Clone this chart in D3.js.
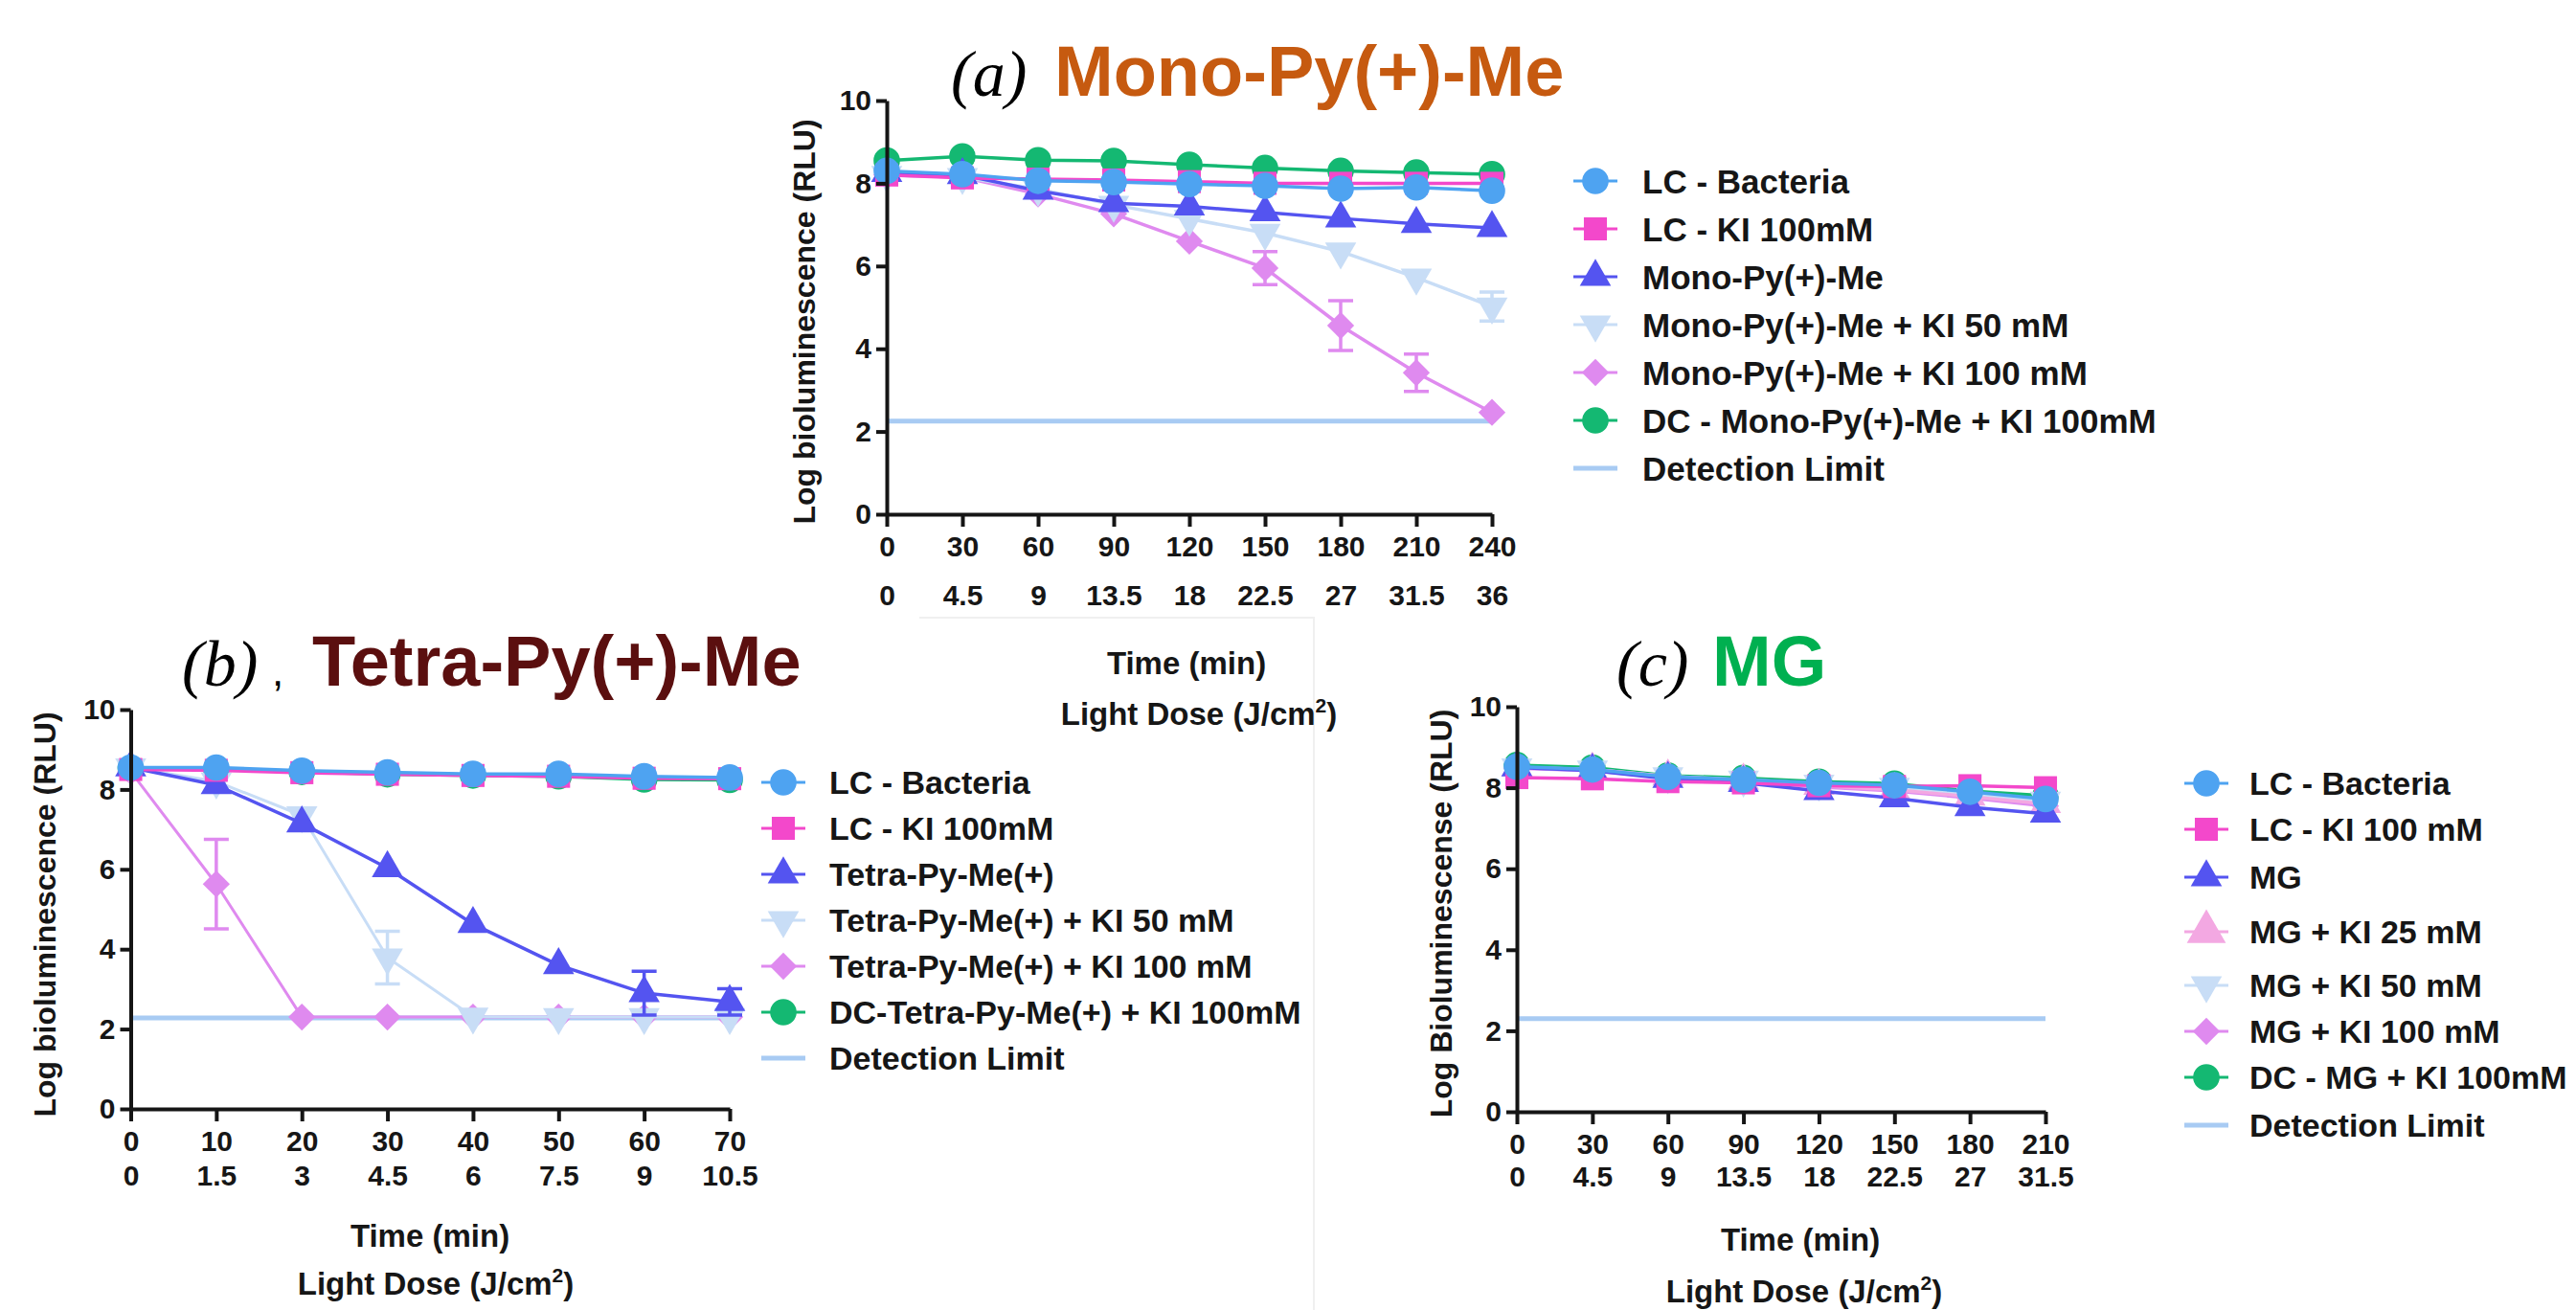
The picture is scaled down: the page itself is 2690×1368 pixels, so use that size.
<!DOCTYPE html>
<html>
<head>
<meta charset="utf-8">
<script src="https://cdn.jsdelivr.net/npm/d3@7"></script>
<style>
  body { margin: 0; background: #fff; }
  svg text { font-family: "Liberation Sans", Arial, sans-serif; font-weight: bold; fill: #161616; }
</style>
</head>
<body>
<svg id="fig" width="2690" height="1368"></svg>
<script>
// ---- x axis categories (time and light dose) ----
const timeA = [0, 30, 60, 90, 120, 150, 180, 210, 240];
const doseA = ["0", "4.5", "9", "13.5", "18", "22.5", "27", "31.5", "36"];
const timeB = [0, 10, 20, 30, 40, 50, 60, 70];
const doseB = ["0", "1.5", "3", "4.5", "6", "7.5", "9", "10.5"];
const timeC = [0, 30, 60, 90, 120, 150, 180, 210];
const doseC = ["0", "4.5", "9", "13.5", "18", "22.5", "27", "31.5"];
const yTicks = [0, 2, 4, 6, 8, 10];

// ---- (a) Mono-Py(+)-Me ----
const labelsA = ["LC - Bacteria", "LC - KI 100mM", "Mono-Py(+)-Me", "Mono-Py(+)-Me + KI 50 mM",
  "Mono-Py(+)-Me + KI 100 mM", "DC - Mono-Py(+)-Me + KI 100mM", "Detection Limit"];
const a_lcBacteria = [8.3, 8.22, 8.06, 8.03, 7.98, 7.94, 7.87, 7.9, 7.82];
const a_lcKI = [8.2, 8.13, 8.1, 8.08, 8.04, 8.0, 8.0, 8.0, 8.0];
const a_mono = [8.25, 8.2, 7.82, 7.52, 7.44, 7.3, 7.15, 7.02, 6.92];
const a_mono50 = [8.2, 8.15, 7.86, 7.48, 7.14, 6.8, 6.35, 5.72, 5.02];
const a_mono50Err = [0, 0, 0, 0, 0, 0, 0, 0, 0.35];
const a_mono100 = [8.2, 8.15, 7.74, 7.26, 6.6, 5.95, 4.56, 3.42, 2.46];
const a_mono100Err = [0, 0, 0, 0, 0, 0.4, 0.6, 0.45, 0];
const a_dc = [8.55, 8.65, 8.56, 8.54, 8.45, 8.37, 8.3, 8.26, 8.22];
const a_limit = 2.25;

// ---- (b) Tetra-Py(+)-Me ----
const labelsB = ["LC - Bacteria", "LC - KI 100mM", "Tetra-Py-Me(+)", "Tetra-Py-Me(+) + KI 50 mM",
  "Tetra-Py-Me(+) + KI 100 mM", "DC-Tetra-Py-Me(+) + KI 100mM", "Detection Limit"];
const b_lcBacteria = [8.55, 8.55, 8.47, 8.43, 8.39, 8.39, 8.33, 8.3];
const b_lcKI = [8.5, 8.48, 8.42, 8.38, 8.35, 8.33, 8.28, 8.27];
const b_tetra = [8.55, 8.11, 7.15, 6.03, 4.63, 3.6, 2.9, 2.68];
const b_tetraErr = [0, 0, 0, 0, 0, 0, 0.55, 0.33];
const b_tetra50 = [8.55, 8.2, 7.35, 3.79, 2.31, 2.3, 2.3, 2.3];
const b_tetra50Err = [0, 0, 0, 0.66, 0, 0, 0, 0];
const b_tetra100 = [8.45, 5.63, 2.3, 2.3, 2.3, 2.3, 2.3, 2.3];
const b_tetra100Err = [0, 1.12, 0, 0, 0, 0, 0, 0];
const b_dc = [8.53, 8.5, 8.44, 8.38, 8.35, 8.33, 8.25, 8.24];
const b_limit = 2.28;

// ---- (c) MG ----
const labelsC = ["LC - Bacteria", "LC - KI 100 mM", "MG", "MG + KI 25 mM", "MG + KI 50 mM",
  "MG + KI 100 mM", "DC - MG + KI 100mM", "Detection Limit"];
const c_lcBacteria = [8.52, 8.45, 8.27, 8.2, 8.12, 8.06, 7.9, 7.72];
const c_lcKI = [8.25, 8.22, 8.15, 8.12, 8.05, 8.03, 8.05, 8.0];
const c_mg = [8.5, 8.42, 8.22, 8.12, 7.92, 7.74, 7.52, 7.36];
const c_mg25 = [8.5, 8.45, 8.28, 8.18, 8.05, 7.95, 7.78, 7.6];
const c_mg50 = [8.5, 8.45, 8.28, 8.2, 8.1, 8.02, 7.85, 7.68];
const c_mg100 = [8.48, 8.42, 8.25, 8.15, 8.02, 7.92, 7.75, 7.55];
const c_dc = [8.56, 8.5, 8.3, 8.24, 8.15, 8.1, 7.92, 7.8];
const c_limit = 2.3;

// ---- look of each kind of series ----
const colLC = "#4ea3f1", colKI = "#f348cb", colDrug = "#5454f0", col50 = "#c8ddf6",
      col100 = "#df8aef", colDC = "#14b872", col25 = "#f3a8e2", colLimit = "#a8cbf3";

const svg = d3.select("#fig");

function symbolPath(shape, size) {
  const type = shape == "circle" ? d3.symbolCircle
    : (shape == "up" || shape == "down") ? d3.symbolTriangle : d3.symbolSquare;
  return d3.symbol().type(type).size(size)();
}
function symbolRot(shape) {
  return shape == "down" ? 180 : shape == "diamond" ? 45 : 0;
}
const sizes = {circle: 600, square: 580, up: 460, down: 460, diamond: 400};

function drawPanel(p) {
  const g = svg.append("g");
  const x = d3.scaleLinear().domain([0, d3.max(p.times)]).range([p.left, p.right]);
  const y = d3.scaleLinear().domain([0, 10]).range([p.bottom, p.top]);

  // detection limit first, so the series sit on top of it
  g.append("line")
    .attr("x1", x(0)).attr("x2", x(d3.max(p.times)))
    .attr("y1", y(p.limit)).attr("y2", y(p.limit))
    .attr("stroke", colLimit).attr("stroke-width", 5);

  // drawn last-to-first: the first legend entry ends up on top
  p.series.slice().reverse().forEach(s => {
    const pts = p.times.map((t, i) => [t, s.values[i], s.err ? s.err[i] : 0]);
    const sg = g.append("g");
    sg.append("path")
      .attr("d", d3.line().x(d => x(d[0])).y(d => y(d[1]))(pts))
      .attr("fill", "none").attr("stroke", s.color)
      .attr("stroke-width", s.width || 3.5).attr("stroke-linejoin", "round");
    pts.filter(d => d[2] > 0).forEach(d => {
      const cx = x(d[0]);
      sg.append("path")
        .attr("d", `M${cx},${y(d[1] - d[2])}V${y(d[1] + d[2])}M${cx - 13},${y(d[1] - d[2])}H${cx + 13}M${cx - 13},${y(d[1] + d[2])}H${cx + 13}`)
        .attr("stroke", s.color).attr("stroke-width", 3.5).attr("fill", "none");
    });
    sg.selectAll(".pt").data(pts).join("path")
      .attr("d", symbolPath(s.shape, s.size || sizes[s.shape]))
      .attr("transform", d => `translate(${x(d[0])},${y(d[1])}) rotate(${symbolRot(s.shape)})`)
      .attr("fill", s.color);
  });

  // axes
  const yAxis = g.append("g").attr("transform", `translate(${p.left},0)`)
    .call(d3.axisLeft(y).tickValues(yTicks).tickSize(11).tickSizeOuter(0).tickPadding(5));
  const xAxis = g.append("g").attr("transform", `translate(0,${p.bottom})`)
    .call(d3.axisBottom(x).tickValues(p.times).tickSize(13).tickSizeOuter(0).tickPadding(p.pad1));
  const doseAxis = g.append("g").attr("transform", `translate(0,${p.bottom})`)
    .call(d3.axisBottom(x).tickValues(p.times).tickSize(0).tickPadding(p.pad2)
      .tickFormat((d, i) => p.doses[i]));
  doseAxis.select(".domain").remove();
  [yAxis, xAxis, doseAxis].forEach(a => {
    a.attr("font-family", null).attr("font-size", null);
    a.selectAll("path, line").attr("stroke", "#151515").attr("stroke-width", 4);
    a.selectAll("text").attr("font-size", 30).attr("fill", "#151515");
  });

  // axis titles
  g.append("text").attr("transform", `translate(${p.yTitleX},${p.yTitleY}) rotate(-90)`)
    .attr("text-anchor", "middle").attr("font-size", 32).text(p.yTitle);
  g.append("text").attr("x", p.timeX).attr("y", p.timeY)
    .attr("text-anchor", "middle").attr("font-size", 33).text("Time (min)");
  const dose = g.append("text").attr("x", p.doseX).attr("y", p.doseY)
    .attr("text-anchor", "middle").attr("font-size", 33);
  dose.append("tspan").text("Light Dose (J/cm");
  dose.append("tspan").attr("font-size", 21).attr("dy", -13).text("2");
  dose.append("tspan").attr("dy", 13).text(")");

  // panel title
  g.append("text").attr("x", p.tagX).attr("y", p.titleY)
    .style("font-family", "'Liberation Serif', 'Times New Roman', serif")
    .style("font-style", "italic").style("font-weight", "normal").attr("font-size", 68)
    .style("fill", "#000").text(p.tag);
  if (p.comma) {
    g.append("text").attr("x", p.comma).attr("y", p.titleY)
      .style("font-weight", "normal").attr("font-size", 44).style("fill", "#000").text(",");
  }
  g.append("text").attr("x", p.titleX).attr("y", p.titleY)
    .attr("font-size", 74).style("fill", p.titleColor).text(p.title);

  // legend
  const rows = p.series.map(s => s).concat([{color: colLimit, shape: null}]);
  rows.forEach((s, i) => {
    const ly = p.legRows[i];
    const lg = g.append("g").attr("transform", `translate(${p.legX},${ly})`);
    lg.append("line").attr("x1", -23).attr("x2", 23)
      .attr("stroke", s.color).attr("stroke-width", s.shape ? 3 : 5);
    if (s.shape) {
      lg.append("path")
        .attr("d", symbolPath(s.shape, s.legSize || s.size || sizes[s.shape]))
        .attr("transform", `rotate(${symbolRot(s.shape)})`)
        .attr("fill", s.color);
    }
    g.append("text").attr("x", p.legTextX).attr("y", ly).attr("dy", "0.36em")
      .attr("font-size", p.legFont).text(p.labels[i]);
  });
}

// faint seams from the pasted composite
svg.append("path").attr("d", "M960,645H1372V1368")
  .attr("fill", "none").attr("stroke", "#f0f0f0").attr("stroke-width", 2);

drawPanel({
  times: timeA, doses: doseA, limit: a_limit, labels: labelsA,
  left: 926, right: 1558, bottom: 537, top: 105, pad1: 10, pad2: 74,
  series: [
    {values: a_lcBacteria, color: colLC, shape: "circle"},
    {values: a_lcKI, color: colKI, shape: "square"},
    {values: a_mono, color: colDrug, shape: "up"},
    {values: a_mono50, err: a_mono50Err, color: col50, shape: "down"},
    {values: a_mono100, err: a_mono100Err, color: col100, shape: "diamond"},
    {values: a_dc, color: colDC, shape: "circle"}
  ],
  yTitle: "Log bioluminescence (RLU)", yTitleX: 851, yTitleY: 336,
  timeX: 1239, timeY: 704, doseX: 1252, doseY: 757,
  tag: "(a)", tagX: 993, titleX: 1101, titleY: 100, title: "Mono-Py(+)-Me", titleColor: "#c65a10",
  legX: 1666, legTextX: 1715, legFont: 35, legRows: [189, 239, 289, 339, 389, 439, 489]
});

drawPanel({
  times: timeB, doses: doseB, limit: b_limit, labels: labelsB,
  left: 136.5, right: 762, bottom: 1158, top: 741, pad1: 10, pad2: 59,
  series: [
    {values: b_lcBacteria, color: colLC, shape: "circle"},
    {values: b_lcKI, color: colKI, shape: "square"},
    {values: b_tetra, err: b_tetraErr, color: colDrug, shape: "up"},
    {values: b_tetra50, err: b_tetra50Err, color: col50, shape: "down", width: 3},
    {values: b_tetra100, err: b_tetra100Err, color: col100, shape: "diamond", width: 3},
    {values: b_dc, color: colDC, shape: "circle"}
  ],
  yTitle: "Log bioluminescence (RLU)", yTitleX: 58, yTitleY: 955,
  timeX: 449, timeY: 1302, doseX: 455, doseY: 1352,
  tag: "(b)", tagX: 190, comma: 284, titleX: 326, titleY: 716, title: "Tetra-Py(+)-Me", titleColor: "#5b0f0f",
  legX: 818, legTextX: 866, legFont: 34, legRows: [817, 865, 913, 961, 1009, 1057, 1105]
});

drawPanel({
  times: timeC, doses: doseC, limit: c_limit, labels: labelsC,
  left: 1584, right: 2136, bottom: 1161, top: 738, pad1: 10, pad2: 57,
  series: [
    {values: c_lcBacteria, color: colLC, shape: "circle"},
    {values: c_lcKI, color: colKI, shape: "square"},
    {values: c_mg, color: colDrug, shape: "up"},
    {values: c_mg25, color: col25, shape: "up", legSize: 720},
    {values: c_mg50, color: col50, shape: "down"},
    {values: c_mg100, color: col100, shape: "diamond"},
    {values: c_dc, color: colDC, shape: "circle"}
  ],
  yTitle: "Log Bioluminescense (RLU)", yTitleX: 1516, yTitleY: 954,
  timeX: 1880, timeY: 1306, doseX: 1884, doseY: 1360,
  tag: "(c)", tagX: 1688, titleX: 1788, titleY: 716, title: "MG", titleColor: "#00b050",
  legX: 2304, legTextX: 2349, legFont: 34, legRows: [818, 866, 916, 973, 1029, 1077, 1125, 1175]
});
</script>
</body>
</html>
